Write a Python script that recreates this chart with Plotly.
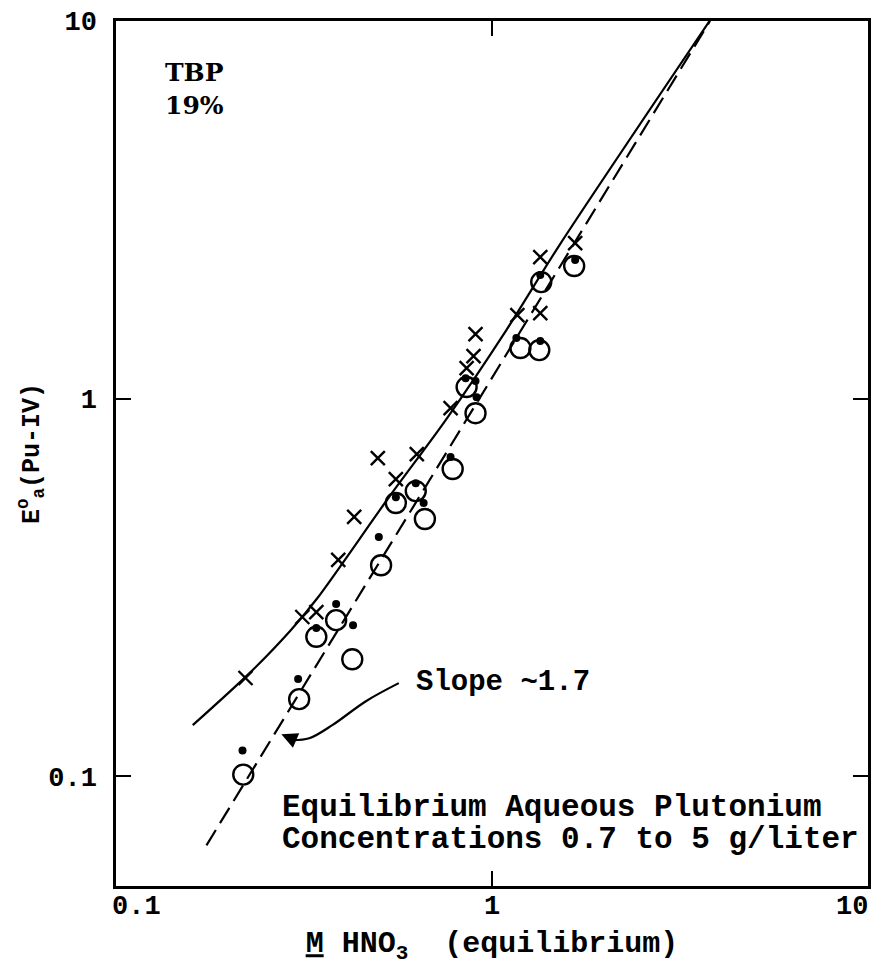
import plotly.graph_objects as go
import math

# ---------------- data ----------------
# x markers (crosses)
cross_x = [0.221, 0.313, 0.341, 0.390, 0.430, 0.497, 0.555, 0.631, 0.776, 0.856, 0.893, 0.904, 1.168, 1.344, 1.344, 1.664]
cross_y = [0.182, 0.264, 0.272, 0.374, 0.486, 0.696, 0.612, 0.713, 0.944, 1.205, 1.296, 1.482, 1.664, 1.684, 2.371, 2.582]

# open circles
circ_x = [0.218, 0.307, 0.341, 0.385, 0.425, 0.507, 0.555, 0.627, 0.663, 0.786, 0.856, 0.904, 1.190, 1.336, 1.352, 1.654]
circ_y = [0.101, 0.160, 0.234, 0.259, 0.204, 0.362, 0.529, 0.569, 0.480, 0.651, 1.073, 0.915, 1.361, 1.344, 2.035, 2.244]

# filled dots
dot_x = [0.217, 0.305, 0.341, 0.385, 0.427, 0.500, 0.555, 0.627, 0.658, 0.776, 0.851, 0.904, 0.910, 1.161, 1.344, 1.344, 1.664]
dot_y = [0.117, 0.181, 0.247, 0.286, 0.251, 0.430, 0.548, 0.597, 0.529, 0.700, 1.133, 1.113, 1.009, 1.447, 1.420, 2.124, 2.327]

# solid (curved) fit line
solid_x = [0.160, 0.2265, 0.292, 0.343, 0.532, 0.753, 1.092, 1.50, 3.79]
solid_y = [0.1365, 0.1875, 0.244, 0.296, 0.548, 0.877, 1.519, 2.519, 10.0]

# dashed straight line (slope ~1.7)
dash_x = [0.174, 3.80]
dash_y = [0.0656, 10.0]

# curved pointer from the "Slope" label
ptr_x = [0.565, 0.462, 0.376, 0.3265, 0.294]
ptr_y = [0.1764, 0.158, 0.1365, 0.126, 0.1246]
ptr_tip = (0.2753, 0.1292)

# axis ticks
x_ticks = [0.1, 1, 10]
x_tick_text = ["0.1", "1", "10"]
x_tick_shift = [20, 0, -16]
y_ticks = [0.1, 1, 10]
y_tick_text = ["0.1", "1", "10"]

MONO = "Liberation Mono"
SERIF = "DejaVu Serif"

fig = go.Figure()

fig.add_trace(go.Scatter(x=solid_x, y=solid_y, mode="lines",
                         line=dict(color="black", width=2.2, shape="spline", smoothing=0.8),
                         showlegend=False, hoverinfo="skip"))
fig.add_trace(go.Scatter(x=dash_x, y=dash_y, mode="lines",
                         line=dict(color="black", width=2.2, dash="18px,8px"),
                         showlegend=False, hoverinfo="skip"))
fig.add_trace(go.Scatter(x=ptr_x, y=ptr_y, mode="lines",
                         line=dict(color="black", width=2.2, shape="spline"),
                         showlegend=False, hoverinfo="skip"))
fig.add_trace(go.Scatter(x=circ_x, y=circ_y, mode="markers",
                         marker=dict(symbol="circle-open", size=20, color="black",
                                     line=dict(width=2.4, color="black")),
                         showlegend=False))
fig.add_trace(go.Scatter(x=dot_x, y=dot_y, mode="markers",
                         marker=dict(symbol="circle", size=8, color="black"),
                         showlegend=False))
fig.add_trace(go.Scatter(x=cross_x, y=cross_y, mode="markers",
                         marker=dict(symbol="x-thin-open", size=14, color="black",
                                     line=dict(width=2.4, color="black")),
                         showlegend=False))

annotations = []
# arrowhead of the pointer
annotations.append(dict(x=math.log10(ptr_tip[0]), y=math.log10(ptr_tip[1]), xref="x", yref="y",
                        ax=14, ay=6, text="", showarrow=True, arrowhead=2, arrowsize=1.6,
                        arrowwidth=2, arrowcolor="black"))
# x tick labels
for v, t, s in zip(x_ticks, x_tick_text, x_tick_shift):
    annotations.append(dict(x=math.log10(v), y=0, xref="x", yref="paper", text="<b>%s</b>" % t,
                            showarrow=False, xanchor="center", yanchor="top", xshift=s, yshift=-4,
                            font=dict(family=MONO, size=27, color="black")))
annotations.append(dict(x=0.0623, y=0.960, xref="paper", yref="paper", text="<b>TBP<br>19%</b>",
                        showarrow=False, xanchor="left", yanchor="top", align="left",
                        font=dict(family=SERIF, size=25, color="black")))
annotations.append(dict(x=0.396, y=0.235, xref="paper", yref="paper", text="<b>Slope ~1.7</b>",
                        showarrow=False, xanchor="left", yanchor="middle",
                        font=dict(family=MONO, size=29, color="black")))
annotations.append(dict(x=0.2185, y=0.0902, xref="paper", yref="paper",
                        text="<b>Equilibrium Aqueous Plutonium</b>",
                        showarrow=False, xanchor="left", yanchor="middle",
                        font=dict(family=MONO, size=31, color="black")))
annotations.append(dict(x=0.2185, y=0.0543, xref="paper", yref="paper",
                        text="<b>Concentrations 0.7 to 5 g/liter</b>",
                        showarrow=False, xanchor="left", yanchor="middle",
                        font=dict(family=MONO, size=31, color="black")))

fig.update_layout(
    width=878, height=966,
    margin=dict(l=116, r=7, t=21, b=80),
    paper_bgcolor="white", plot_bgcolor="white",
    font=dict(family=MONO, color="black"),
    annotations=annotations,
    xaxis=dict(type="log", range=[-1, 1], tickvals=x_ticks, showticklabels=False,
               ticks="inside", ticklen=15, tickwidth=2, tickcolor="black",
               showline=True, linecolor="black", linewidth=2.5, mirror="ticks",
               showgrid=False, zeroline=False,
               title=dict(text="<b><u>M</u> HNO<sub>3</sub>  (equilibrium)</b>", standoff=44,
                          font=dict(family=MONO, size=30, color="black"))),
    yaxis=dict(type="log", range=[math.log10(0.0512), 1], tickvals=y_ticks,
               ticktext=["<b>%s</b>" % t for t in y_tick_text],
               ticks="inside", ticklen=15, tickwidth=2, tickcolor="black",
               ticklabelstandoff=11,
               tickfont=dict(family=MONO, size=27, color="black"),
               showline=True, linecolor="black", linewidth=2.5, mirror="ticks",
               showgrid=False, zeroline=False,
               title=dict(text="<b>E<sup>o</sup><sub>a</sub>(Pu-IV)</b>", standoff=2,
                          font=dict(family=MONO, size=25, color="black"))),
)

fig.write_html("out.html")
